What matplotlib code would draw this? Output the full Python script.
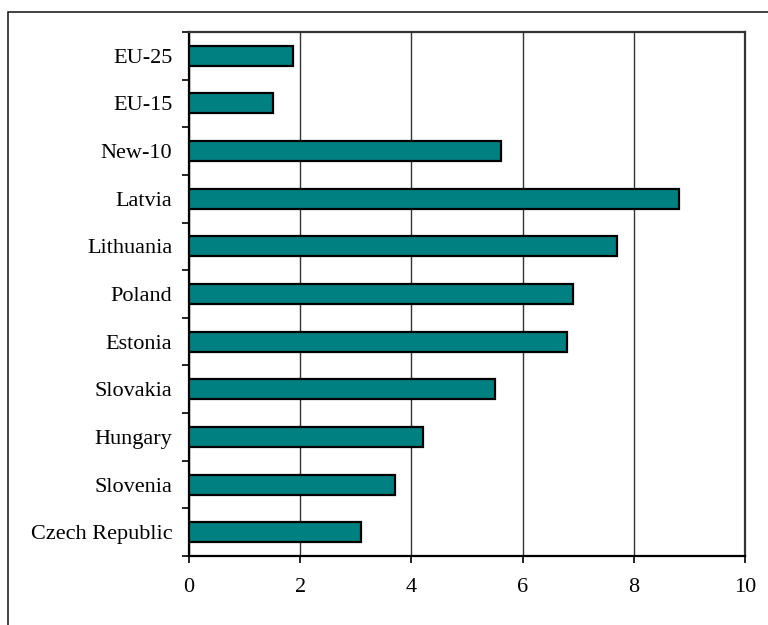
import numpy as np
import matplotlib.pyplot as plt
from matplotlib.patches import Rectangle

# Values (top to bottom)
countries = ["EU-25", "EU-15", "New-10", "Latvia", "Lithuania", "Poland",
             "Estonia", "Slovakia", "Hungary", "Slovenia", "Czech Republic"]
values = [1.87, 1.51, 5.61, 8.81, 7.70, 6.91, 6.80, 5.50, 4.21, 3.71, 3.09]
x_ticks = [0, 2, 4, 6, 8, 10]

plt.rcParams["font.family"] = ["Liberation Serif", "DejaVu Serif"]

fig = plt.figure(figsize=(7.68, 6.25), dpi=100)
ax = fig.add_axes([189 / 768, 69 / 625, 556 / 768, 524 / 625])

# outer chart frame (cut off on the right and bottom in the original)
fig.patches.append(Rectangle((8 / 768, -0.5), 2.0, 0.5 + 613 / 625,
                             transform=fig.transFigure, fill=False,
                             edgecolor="#222222", linewidth=1.2))

y = np.arange(len(countries))
ax.barh(y, values, height=0.42, color="#008080", edgecolor="black",
        linewidth=1.6, zorder=3)

ax.set_xlim(0, 10)
ax.set_ylim(len(countries) - 0.5, -0.5)
ax.set_xticks(x_ticks)
ax.set_xticklabels([str(t) for t in x_ticks], fontsize=16)
ax.set_yticks(y)
ax.set_yticklabels(countries, fontsize=16)
ax.set_yticks(np.arange(-0.5, len(countries), 1.0), minor=True)

ax.tick_params(axis="y", which="major", length=0, pad=12)
ax.tick_params(axis="y", which="minor", length=5, width=1.2, direction="out")
ax.tick_params(axis="x", which="major", length=5, width=1.2, direction="out", pad=11)

ax.grid(axis="x", color="#333333", linewidth=1.0, zorder=0)
ax.set_axisbelow(True)

for side in ["left", "bottom"]:
    ax.spines[side].set_linewidth(1.6)
    ax.spines[side].set_color("black")
for side in ["top", "right"]:
    ax.spines[side].set_linewidth(1.6)
    ax.spines[side].set_color("#333333")

fig.savefig("out.png", dpi=100)
